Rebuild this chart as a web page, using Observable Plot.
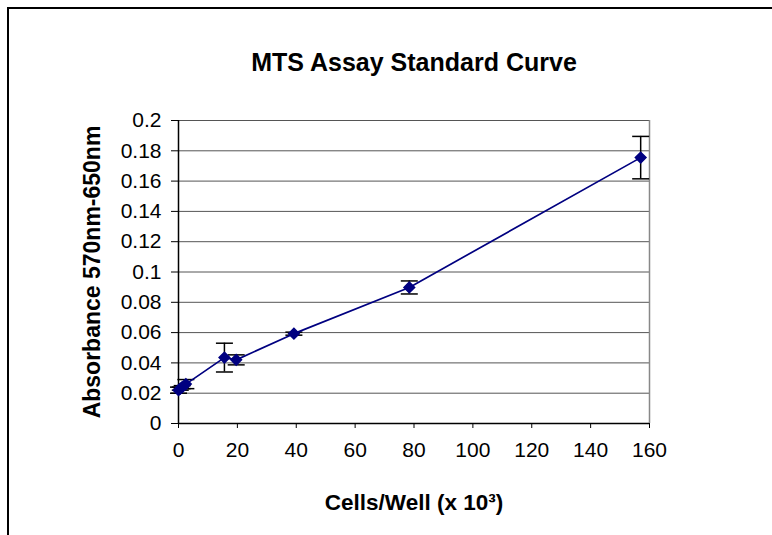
<!DOCTYPE html>
<html>
<head>
<meta charset="utf-8">
<script src="https://cdn.jsdelivr.net/npm/d3@7"></script>
<script src="https://cdn.jsdelivr.net/npm/@observablehq/plot@0.6"></script>
<style>
  html, body { margin: 0; padding: 0; background: #fff; overflow: hidden; }
  #wrap { position: relative; width: 772px; height: 535px; }
  #frame { position: absolute; left: 7px; top: 7px; width: 900px; height: 700px; border-left: 2px solid #000; border-top: 2px solid #000; box-sizing: border-box; }
  #chart { position: absolute; left: 0; top: 0; }
</style>
</head>
<body>
<div id="wrap"><div id="frame"></div><div id="chart"></div></div>
<script>
const titleText = "MTS Assay Standard Curve";
const xTitle = "Cells/Well (x 10³)";
const yTitle = "Absorbance 570nm-650nm";

const cells = [0, 0.6, 1.25, 2.5, 15.6, 19.6, 39.2, 78.4, 157];
const absorbance = [0.022, 0.023, 0.024, 0.026, 0.0435, 0.042, 0.0593, 0.0898, 0.1755];
const errors = [0.002, 0.001, 0.001, 0.003, 0.0095, 0.0033, 0.001, 0.0043, 0.014];
const xTicks = [0, 20, 40, 60, 80, 100, 120, 140, 160];
const yTicks = [0, 0.02, 0.04, 0.06, 0.08, 0.1, 0.12, 0.14, 0.16, 0.18, 0.2];

const data = cells.map((c, i) => ({x: c, y: absorbance[i], lo: absorbance[i] - errors[i], hi: absorbance[i] + errors[i]}));

const cap = {draw(ctx, size) { const w = 8.5; ctx.moveTo(-w, 0); ctx.lineTo(w, 0); }};

const font = "'Liberation Sans', Arial, sans-serif";

const plot = Plot.plot({
  width: 772,
  height: 535,
  marginLeft: 178,
  marginRight: 123,
  marginTop: 120,
  marginBottom: 112,
  style: {fontFamily: font, fontSize: "21px", color: "#000", background: "transparent"},
  x: {domain: [0, 160], ticks: xTicks},
  y: {domain: [0, 0.2], ticks: yTicks},
  marks: [
    Plot.gridY(yTicks, {stroke: "#555", strokeOpacity: 1, strokeWidth: 1}),
    Plot.ruleX([160], {stroke: "#888", strokeWidth: 1.5}),
    Plot.axisY(yTicks, {tickSize: 7, tickPadding: 10, label: null, fontSize: 21, tickFormat: d => String(d)}),
    Plot.axisX(xTicks, {tickSize: 5, tickPadding: 14, label: null, fontSize: 21, tickFormat: d => String(d)}),
    Plot.ruleX([0], {stroke: "#000", strokeWidth: 1.5}),
    Plot.ruleY([0], {stroke: "#000", strokeWidth: 1.5}),
    Plot.ruleX(data, {x: "x", y1: "lo", y2: "hi", stroke: "#000", strokeWidth: 1.5}),
    Plot.dot(data, {x: "x", y: "hi", symbol: cap, stroke: "#000", strokeWidth: 1.5, r: 5}),
    Plot.dot(data, {x: "x", y: "lo", symbol: cap, stroke: "#000", strokeWidth: 1.5, r: 5}),
    Plot.line(data, {x: "x", y: "y", stroke: "#000080", strokeWidth: 1.7}),
    Plot.dot(data, {x: "x", y: "y", symbol: "diamond2", fill: "#000080", stroke: "#000080", r: 4.8}),
    Plot.text([titleText], {frameAnchor: "top", dy: -58, lineAnchor: "middle", fontSize: 25, fontWeight: "bold", fill: "#000"}),
    Plot.text([xTitle], {frameAnchor: "bottom", dy: 79, lineAnchor: "middle", fontSize: 22.5, fontWeight: "bold", fill: "#000"}),
    Plot.text([yTitle], {frameAnchor: "left", dx: -86, rotate: -90, textAnchor: "middle", lineAnchor: "middle", fontSize: 23, fontWeight: "bold", fill: "#000"})
  ]
});
document.getElementById("chart").appendChild(plot);
</script>
</body>
</html>
